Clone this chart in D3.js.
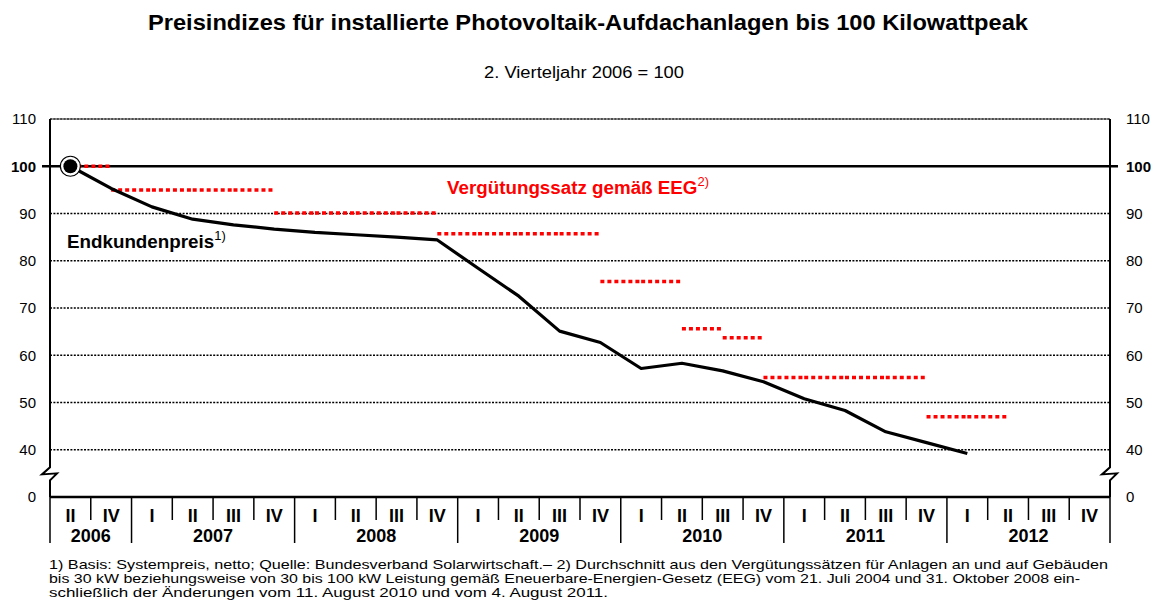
<!DOCTYPE html>
<html>
<head>
<meta charset="utf-8">
<script src="https://cdn.jsdelivr.net/npm/d3@7"></script>
<style>
    body { margin: 0; background: #fff; }
    svg { font-family: "Liberation Sans", Arial, sans-serif; }
</style>
</head>
<body>
<svg id="chart"></svg>
<script>
// Quarter slots (2006 only has II and IV)
const quarterLabels = ["II", "IV",
    "I", "II", "III", "IV", "I", "II", "III", "IV", "I", "II", "III", "IV",
    "I", "II", "III", "IV", "I", "II", "III", "IV", "I", "II", "III", "IV"];
const yearLabels = ["2006", "2007", "2008", "2009", "2010", "2011", "2012"];
const quartersPerYear = [2, 4, 4, 4, 4, 4, 4];

// y ticks: the 30 position is shown as "0" (broken axis)
const yTickValues = [30, 40, 50, 60, 70, 80, 90, 100, 110];
const yTickLabels = ["0", "40", "50", "60", "70", "80", "90", "100", "110"];

// Endkundenpreis, one value per quarter slot from II 2006 to I 2012
const endkundenpreis = [100, 95.3, 91.4, 88.8, 87.6, 86.7, 86.0, 85.5, 85.0, 84.4,
    78.4, 72.5, 65.1, 62.7, 57.2, 58.3, 56.7, 54.4, 50.8, 48.3, 43.8, 41.5, 39.2];

// Vergütungssatz gemäß EEG, value held from each slot to the next (last is the end point)
const verguetungssatz = [100, 95, 95, 95, 95, 90.1, 90.1, 90.1, 90.1, 85.7, 85.7, 85.7, 85.7,
    75.6, 75.6, 65.6, 63.7, 55.3, 55.3, 55.3, 55.3, 47.0, 47.0, 47.0];

const footnoteLines = [
    "1) Basis: Systempreis, netto; Quelle: Bundesverband Solarwirtschaft.\u2013 2) Durchschnitt aus den Vergütungssätzen für Anlagen an und auf Gebäuden",
    "bis 30 kW beziehungsweise von 30 bis 100 kW Leistung gemäß Eneuerbare-Energien-Gesetz (EEG) vom 21. Juli 2004 und 31. Oktober 2008 ein-",
    "schließlich der Änderungen vom 11. August 2010 und vom 4. August 2011."
];
const footnoteWidths = [1059, 1031, 559];

const W = 1154, H = 613;
const plot = { left: 50, right: 1110, top: 119, bottom: 497 };

const svg = d3.select("#chart").attr("width", W).attr("height", H);

const x = d3.scaleBand()
    .domain(d3.range(quarterLabels.length))
    .range([plot.left, plot.right])
    .padding(0);
const xc = i => x(i) + x.bandwidth() / 2;

const y = d3.scaleLinear()
    .domain([30, 110])
    .range([plot.bottom, plot.top]);

// Title
svg.append("text")
    .attr("x", 148).attr("y", 30)
    .attr("font-size", "21.5px").attr("font-weight", "bold")
    .attr("textLength", 880).attr("lengthAdjust", "spacingAndGlyphs")
    .text("Preisindizes für installierte Photovoltaik-Aufdachanlagen bis 100 Kilowattpeak");

svg.append("text")
    .attr("x", 484).attr("y", 78)
    .attr("font-size", "16px")
    .attr("textLength", 200).attr("lengthAdjust", "spacingAndGlyphs")
    .text("2. Vierteljahr 2006 = 100");

// Gridlines
const grid = svg.append("g");
grid.selectAll("line.dot")
    .data(yTickValues.filter(v => v >= 40 && v <= 90))
    .enter().append("line")
    .attr("class", "dot")
    .attr("x1", plot.left).attr("x2", plot.right)
    .attr("y1", d => y(d)).attr("y2", d => y(d))
    .attr("stroke", "#000").attr("stroke-width", 1.6)
    .attr("stroke-dasharray", "2,1.4");

// top line (110)
grid.append("line")
    .attr("x1", plot.left).attr("x2", plot.right)
    .attr("y1", y(110)).attr("y2", y(110))
    .attr("stroke", "#999").attr("stroke-width", 2);
grid.append("line")
    .attr("x1", plot.left).attr("x2", plot.right)
    .attr("y1", y(110)).attr("y2", y(110))
    .attr("stroke", "#000").attr("stroke-width", 1)
    .attr("stroke-dasharray", "2,1.4");

// 100 reference line, extends past both axes
grid.append("line")
    .attr("x1", plot.left - 8).attr("x2", plot.right + 8)
    .attr("y1", y(100)).attr("y2", y(100))
    .attr("stroke", "#000").attr("stroke-width", 2.5);

// Vertical axes with break symbol
function axisWithBreak(xPos) {
    const yb = y(35);
    const p = d3.path();
    p.moveTo(xPos, plot.top);
    p.lineTo(xPos, yb - 6);
    p.lineTo(xPos - 8, yb + 1);
    p.lineTo(xPos + 7, yb);
    p.lineTo(xPos, yb + 7);
    p.lineTo(xPos, plot.bottom);
    svg.append("path")
        .attr("d", p.toString())
        .attr("fill", "none")
        .attr("stroke", "#000")
        .attr("stroke-width", 2)
        .attr("stroke-linejoin", "miter");
}
axisWithBreak(plot.left);
axisWithBreak(plot.right);

// Y tick labels, left and right
svg.selectAll("text.yl")
    .data(yTickValues)
    .enter().append("text")
    .attr("class", "yl")
    .attr("x", 36)
    .attr("y", d => y(d))
    .attr("dy", "0.36em")
    .attr("text-anchor", "end")
    .attr("font-size", "15px")
    .attr("font-weight", d => d === 100 ? "bold" : "normal")
    .text((d, i) => yTickLabels[i]);

svg.selectAll("text.yr")
    .data(yTickValues)
    .enter().append("text")
    .attr("class", "yr")
    .attr("x", 1126)
    .attr("y", d => y(d))
    .attr("dy", "0.36em")
    .attr("text-anchor", "start")
    .attr("font-size", "15px")
    .attr("font-weight", d => d === 100 ? "bold" : "normal")
    .text((d, i) => yTickLabels[i]);

// X axis
svg.append("line")
    .attr("x1", plot.left).attr("x2", plot.right)
    .attr("y1", plot.bottom).attr("y2", plot.bottom)
    .attr("stroke", "#000").attr("stroke-width", 2.5);

const yearStarts = [0];
quartersPerYear.forEach((n, i) => yearStarts.push(yearStarts[i] + n));

// short separators between quarters
svg.selectAll("line.qsep")
    .data(d3.range(1, quarterLabels.length).filter(i => !yearStarts.includes(i)))
    .enter().append("line")
    .attr("class", "qsep")
    .attr("x1", d => x(d)).attr("x2", d => x(d))
    .attr("y1", plot.bottom).attr("y2", plot.bottom + 23)
    .attr("stroke", "#000").attr("stroke-width", 1.5);

// long separators between years
svg.selectAll("line.ysep")
    .data(yearStarts)
    .enter().append("line")
    .attr("class", "ysep")
    .attr("x1", d => d < quarterLabels.length ? x(d) : plot.right)
    .attr("x2", d => d < quarterLabels.length ? x(d) : plot.right)
    .attr("y1", plot.bottom).attr("y2", plot.bottom + 46)
    .attr("stroke", "#000").attr("stroke-width", 1.5);

svg.selectAll("text.q")
    .data(quarterLabels)
    .enter().append("text")
    .attr("class", "q")
    .attr("x", (d, i) => xc(i))
    .attr("y", 516)
    .attr("dy", "0.36em")
    .attr("text-anchor", "middle")
    .attr("font-size", "18px").attr("font-weight", "bold")
    .text(d => d);

svg.selectAll("text.yr-label")
    .data(yearLabels)
    .enter().append("text")
    .attr("class", "yr-label")
    .attr("x", (d, i) => (x(yearStarts[i]) + (yearStarts[i + 1] < quarterLabels.length ? x(yearStarts[i + 1]) : plot.right)) / 2)
    .attr("y", 536)
    .attr("dy", "0.36em")
    .attr("text-anchor", "middle")
    .attr("font-size", "18px").attr("font-weight", "bold")
    .text(d => d);

// Vergütungssatz: horizontal segments per quarter, red dashes
svg.selectAll("line.eeg")
    .data(verguetungssatz.slice(0, -1))
    .enter().append("line")
    .attr("class", "eeg")
    .attr("x1", (d, i) => xc(i)).attr("x2", (d, i) => xc(i + 1))
    .attr("y1", d => y(d)).attr("y2", d => y(d))
    .attr("stroke", "#ff0000").attr("stroke-width", 3.5)
    .attr("stroke-dasharray", "4,3");

// Endkundenpreis line
const line = d3.line()
    .x((d, i) => xc(i))
    .y(d => y(d));

svg.append("path")
    .datum(endkundenpreis)
    .attr("d", line)
    .attr("fill", "none")
    .attr("stroke", "#000")
    .attr("stroke-width", 3.2)
    .attr("stroke-linejoin", "round");

// base point marker
svg.append("circle")
    .attr("cx", xc(0)).attr("cy", y(endkundenpreis[0]))
    .attr("r", 10)
    .attr("fill", "#fff").attr("stroke", "#000").attr("stroke-width", 1.2);
svg.append("circle")
    .attr("cx", xc(0)).attr("cy", y(endkundenpreis[0]))
    .attr("r", 7)
    .attr("fill", "#000");

// Series labels
const lab1 = svg.append("text")
    .attr("x", 67).attr("y", 248)
    .attr("font-size", "18.8px").attr("font-weight", "bold");
lab1.append("tspan").text("Endkundenpreis");
lab1.append("tspan").attr("dy", -8).attr("font-size", "13px").attr("font-weight", "normal").text("1)");

const lab2 = svg.append("text")
    .attr("x", 447).attr("y", 194)
    .attr("font-size", "18.8px").attr("font-weight", "bold")
    .attr("fill", "#ff0000");
lab2.append("tspan").text("Vergütungssatz gemäß EEG");
lab2.append("tspan").attr("dy", -8).attr("font-size", "13px").attr("font-weight", "normal").text("2)");

// Footnotes
svg.selectAll("text.fn")
    .data(footnoteLines)
    .enter().append("text")
    .attr("class", "fn")
    .attr("x", 49)
    .attr("y", (d, i) => 569 + i * 14)
    .attr("font-size", "13px")
    .attr("textLength", (d, i) => footnoteWidths[i])
    .attr("lengthAdjust", "spacingAndGlyphs")
    .text(d => d);
</script>
</body>
</html>
